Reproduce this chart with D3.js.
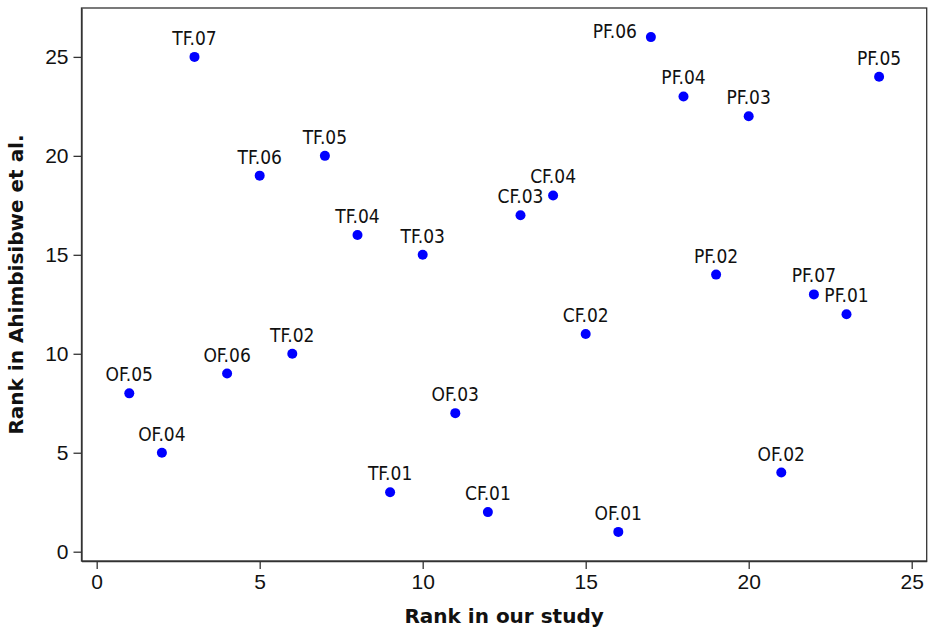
<!DOCTYPE html>
<html>
<head>
<meta charset="utf-8">
<script src="https://cdn.jsdelivr.net/npm/d3@7"></script>
<style>
  body { margin: 0; background: #fff; }
  svg { font-family: "DejaVu Sans Condensed", "DejaVu Sans", sans-serif; font-stretch: condensed; }
  .axis path, .axis line { stroke: #333; stroke-width: 1.3px; }
  .axis text { font-size: 21px; fill: #111; }
  .pt-label { font-size: 19px; fill: #111; }
  .title { font-family: "DejaVu Sans", sans-serif; font-stretch: normal; font-size: 20px; font-weight: bold; fill: #111; }
</style>
</head>
<body>
<svg id="chart" width="929" height="630"></svg>
<script>
//codes for each factor
var codes = ["OF.05", "OF.04", "TF.07", "OF.06", "TF.06", "TF.02", "TF.05", "TF.04",
             "TF.01", "TF.03", "OF.03", "CF.01", "CF.03", "CF.04", "CF.02", "OF.01",
             "PF.06", "PF.04", "PF.02", "PF.03", "OF.02", "PF.07", "PF.01", "PF.05"];

//rank in our study (x)
var ourRank = [1, 2, 3, 4, 5, 6, 7, 8, 9, 10, 11, 12, 13, 14, 15, 16, 17, 18, 19, 20, 21, 22, 23, 24];

//rank in Ahimbisibwe et al. (y)
var otherRank = [8, 5, 25, 9, 19, 10, 20, 16, 3, 15, 7, 2, 17, 18, 11, 1, 26, 23, 14, 22, 4, 13, 12, 24];

//tick values
var xTicks = [0, 5, 10, 15, 20, 25];
var yTicks = [0, 5, 10, 15, 20, 25];

var svg = d3.select("#chart"),
    margin = {top: 8, right: 2.3, bottom: 69, left: 81.5},
    width = svg.attr("width") - margin.left - margin.right,
    height = svg.attr("height") - margin.top - margin.bottom,
    g = svg.append("g").attr("transform", "translate(" + margin.left + "," + margin.top + ")");

var x = d3.scaleLinear().domain([-0.466, 25.46]).range([0, width]),
    y = d3.scaleLinear().domain([-0.47, 27.47]).range([height, 0]);

var data = codes.map(function(c, i) {
  return {code: c, x: ourRank[i], y: otherRank[i]};
});

//x axis
g.append("g")
    .attr("class", "axis axis--x")
    .attr("transform", "translate(0," + height + ")")
    .call(d3.axisBottom(x).tickValues(xTicks).tickSize(8).tickSizeOuter(0).tickPadding(5));

//y axis
g.append("g")
    .attr("class", "axis axis--y")
    .call(d3.axisLeft(y).tickValues(yTicks).tickSize(8).tickSizeOuter(0).tickPadding(5));

//frame round the plot
g.append("rect")
    .attr("width", width)
    .attr("height", height)
    .attr("fill", "none")
    .attr("stroke", "#333")
    .attr("stroke-width", 1.3);

//points
g.selectAll(".pt")
    .data(data)
    .enter().append("circle")
    .attr("class", "pt")
    .attr("cx", function(d) { return x(d.x); })
    .attr("cy", function(d) { return y(d.y); })
    .attr("r", 5)
    .attr("fill", "#0000ff");

//labels, PF.06 sits to the left of its point
g.selectAll(".pt-label")
    .data(data)
    .enter().append("text")
    .attr("class", "pt-label")
    .attr("x", function(d) { return d.code == "PF.06" ? x(d.x) - 14 : x(d.x); })
    .attr("y", function(d) { return d.code == "PF.06" ? y(d.y) + 0.5 : y(d.y) - 12; })
    .attr("text-anchor", function(d) { return d.code == "PF.06" ? "end" : "middle"; })
    .text(function(d) { return d.code; });

//axis titles
svg.append("text")
    .attr("class", "title")
    .attr("x", margin.left + width / 2)
    .attr("y", 622.5)
    .attr("text-anchor", "middle")
    .text("Rank in our study");

svg.append("text")
    .attr("class", "title")
    .attr("transform", "translate(23," + (margin.top + height / 2) + ") rotate(-90)")
    .attr("text-anchor", "middle")
    .text("Rank in Ahimbisibwe et al.");
</script>
</body>
</html>
